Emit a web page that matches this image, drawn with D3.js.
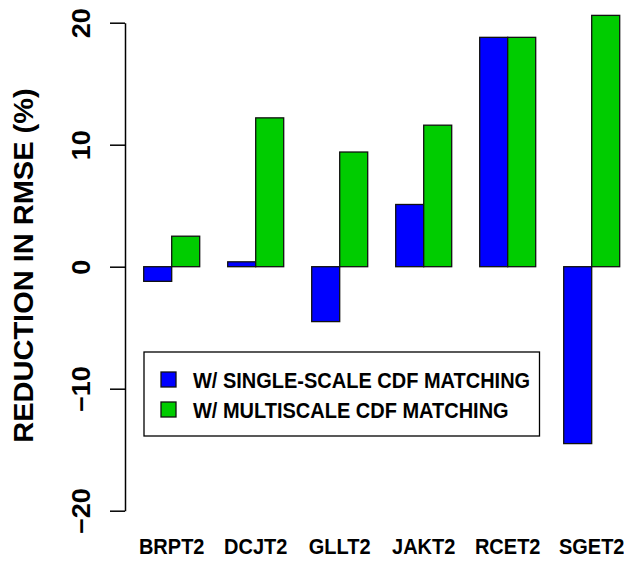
<!DOCTYPE html>
<html>
<head>
<meta charset="utf-8">
<script src="https://cdn.jsdelivr.net/npm/d3@7"></script>
<style>
  html, body { margin: 0; padding: 0; background: #fff; }
  svg { display: block; font-family: "Liberation Sans", Arial, Helvetica, sans-serif; }
</style>
</head>
<body>
<svg id="chart" width="624" height="563"></svg>
<script>
const categories = ["BRPT2", "DCJT2", "GLLT2", "JAKT2", "RCET2", "SGET2"];
const singleScale = [-1.2, 0.4, -4.5, 5.1, 18.8, -14.5];
const multiScale = [2.5, 12.2, 9.4, 11.6, 18.8, 20.6];
const seriesNames = ["W/ SINGLE-SCALE CDF MATCHING", "W/ MULTISCALE CDF MATCHING"];
const seriesColors = ["#0000FF", "#00CC00"];
const yTicks = [-20, -10, 0, 10, 20];
const yLabel = "REDUCTION IN RMSE (%)";

const squeeze = 0.93; // horizontal condensation of the reference's glyphs

const svg = d3.select("#chart");

const y = d3.scaleLinear().domain([-20, 20]).range([510.7, 22.7]);
const x0 = d3.scaleBand().domain(categories).range([143.7, 619.7]).paddingInner(1/3).paddingOuter(0);
const x1 = d3.scaleBand().domain([0, 1]).range([0, x0.bandwidth()]);

const series = [singleScale, multiScale];

// bars
categories.forEach((c, i) => {
  const g = svg.append("g").attr("transform", `translate(${x0(c)},0)`);
  series.forEach((s, k) => {
    const v = s[i];
    g.append("rect")
      .attr("x", x1(k))
      .attr("width", x1.bandwidth())
      .attr("y", y(Math.max(0, v)))
      .attr("height", Math.abs(y(v) - y(0)))
      .attr("fill", seriesColors[k])
      .attr("stroke", "#111")
      .attr("stroke-width", 1.3);
  });
});

// y axis
const yAxis = svg.append("g")
  .attr("transform", "translate(125,0)")
  .call(d3.axisLeft(y).tickValues(yTicks).tickSize(15).tickSizeOuter(0).tickFormat(d3.format("d")));
yAxis.select(".domain").attr("stroke", "#000").attr("stroke-width", 1.5);
yAxis.selectAll(".tick line").attr("stroke", "#000").attr("stroke-width", 1.5);
yAxis.selectAll(".tick text")
  .attr("transform", `translate(-35,0) rotate(-90) scale(1,${squeeze})`)
  .attr("x", 0)
  .attr("y", 0)
  .attr("dy", 0)
  .attr("text-anchor", "middle")
  .attr("fill", "#000")
  .style("font-size", "27px")
  .style("font-weight", "bold")
  .style("font-family", "'Liberation Sans', Arial, sans-serif");

// x labels
svg.append("g").selectAll("text")
  .data(categories)
  .join("text")
  .attr("transform", d => `translate(${x0(d) + x0.bandwidth() / 2},554) scale(${squeeze},1)`)
  .attr("text-anchor", "middle")
  .style("font-size", "21.5px")
  .style("font-weight", "bold")
  .text(d => d);

// y label
svg.append("text")
  .attr("transform", `translate(33,265.5) rotate(-90) scale(1,${squeeze})`)
  .attr("text-anchor", "middle")
  .style("font-size", "29px")
  .style("font-weight", "bold")
  .text(yLabel);

// legend
const leg = svg.append("g");
leg.append("rect")
  .attr("x", 144).attr("y", 352)
  .attr("width", 395.5).attr("height", 84)
  .attr("fill", "#fff").attr("stroke", "#000").attr("stroke-width", 1.3);
seriesNames.forEach((n, k) => {
  const yy = 372 + k * 30;
  leg.append("rect")
    .attr("x", 161).attr("y", yy)
    .attr("width", 15).attr("height", 15)
    .attr("fill", seriesColors[k]).attr("stroke", "#111").attr("stroke-width", 1.3);
  leg.append("text")
    .attr("transform", `translate(193,${yy + 15.5}) scale(${squeeze},1)`)
    .style("font-size", "21.5px")
    .style("font-weight", "bold")
    .text(n);
});
</script>
</body>
</html>
